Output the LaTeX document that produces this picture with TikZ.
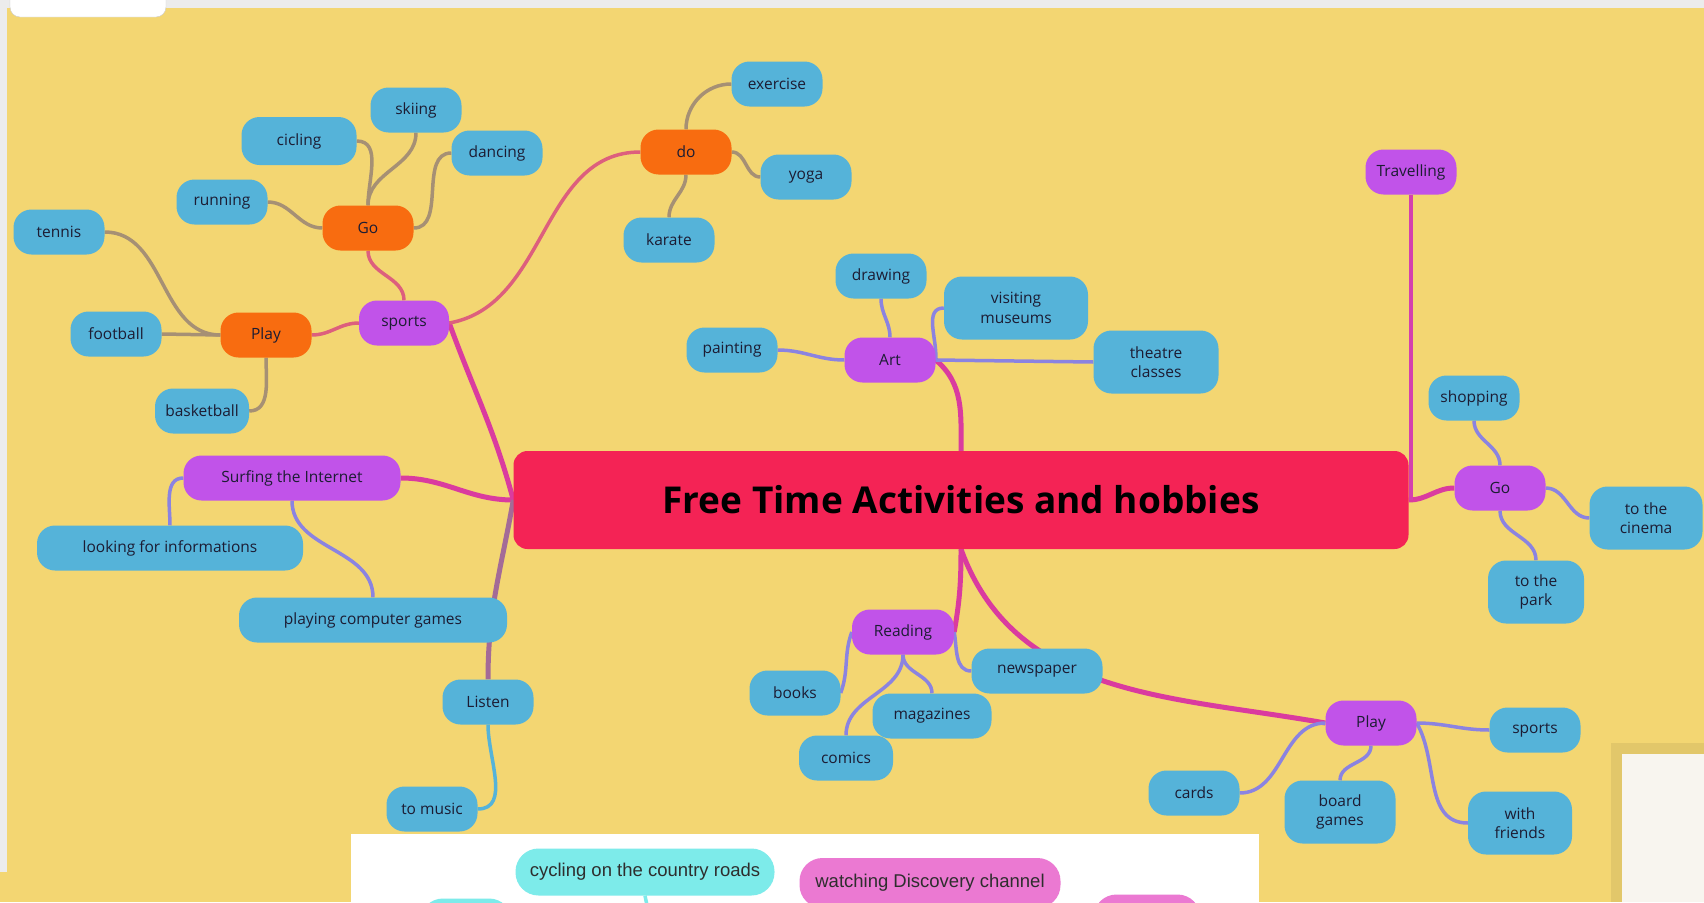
\documentclass[tikz,border=0pt]{standalone}
\usepackage{fontspec}
\setmainfont{Open Sans}
\newfontfamily\stripfont{Liberation Sans}
\usepackage{tikz}

\definecolor{paper}{HTML}{F3D672}
\definecolor{frame}{HTML}{ECECEC}
\definecolor{cream}{HTML}{F8F5EF}
\definecolor{leafblue}{HTML}{55B3D9}
\definecolor{lilac}{HTML}{C153E9}
\definecolor{tangerine}{HTML}{F86C10}
\definecolor{crimson}{HTML}{F42355}
\definecolor{ink}{HTML}{1C1C33}
\definecolor{aqua}{HTML}{7DEBEA}
\definecolor{orchid}{HTML}{EB79D2}
\definecolor{stripink}{HTML}{2E2E2E}

\pgfdeclarelayer{back}
\pgfdeclarelayer{links}
\pgfsetlayers{back,links,main}

\begin{document}
\begin{tikzpicture}[x=1pt,y=-1pt,
  every node/.style={font=\fontsize{15.5}{19.5}\selectfont,text=ink},
  leaf/.style={rectangle,rounded corners=18pt,fill=leafblue,minimum width=91pt,
    minimum height=45pt,inner sep=0pt,align=center},
  branch/.style={leaf,fill=lilac},
  sub node/.style={leaf,fill=tangerine},
  title node/.style={rectangle,rounded corners=14pt,fill=crimson,minimum width=895pt,
    minimum height=98pt,text=black,font=\fontsize{37}{44}\selectfont\bfseries},
  strip/.style={rectangle,rounded corners=23pt,inner sep=0pt,text=stripink,
    font=\stripfont\fontsize{18.5}{22}\selectfont},
  link/.style={line width=3.5pt},
  main link/.style={line width=5pt}]

  \useasboundingbox (0,0) rectangle (1704,902);
  \clip (0,0) rectangle (1704,902);

  \begin{pgfonlayer}{back}
    \fill[frame] (0,0) rectangle (1704,902);
    \fill[paper] (7,8) rectangle (1704,902);
    \fill[paper] (0,872) rectangle (7,902);
    \filldraw[white,draw=black!20,rounded corners=10pt] (10,-20) rectangle (166,17);
    \fill[paper!93!black] (1611,743) rectangle (1704,902);
    \fill[cream] (1622,754) rectangle (1704,902);
    \fill[white] (351,834) rectangle (1259,902);
  \end{pgfonlayer}

  \node[title node] (ttl) at (961,500) {Free Time Activities and hobbies};

  \node[branch,minimum width=90pt] (sports) at (404,323) {sports};
  \node[sub node] (goL) at (368,228) {Go};
  \node[leaf] (skiing) at (416,110) {skiing};
  \node[leaf,minimum width=115pt,minimum height=48pt] (cicling) at (299,141) {cicling};
  \node[leaf] (dancing) at (497,153) {dancing};
  \node[leaf] (running) at (222,202) {running};
  \node[sub node] (playL) at (266,335) {Play};
  \node[leaf] (tennis) at (59,232) {tennis};
  \node[leaf] (football) at (116,334) {football};
  \node[leaf,minimum width=94pt] (basket) at (202,411) {basketball};
  \node[sub node] (do) at (686,152) {do};
  \node[leaf] (exercise) at (777,84) {exercise};
  \node[leaf] (yoga) at (806,177) {yoga};
  \node[leaf] (karate) at (669,240) {karate};

  \node[branch] (art) at (890,360) {Art};
  \node[leaf] (drawing) at (881,276) {drawing};
  \node[leaf,minimum width=144pt,minimum height=63pt] (museums) at (1016,308) {visiting\\museums};
  \node[leaf,minimum width=125pt,minimum height=63pt] (theatre) at (1156,362) {theatre\\classes};
  \node[leaf] (painting) at (732,350) {painting};

  \node[branch] (travel) at (1411,172) {Travelling};
  \node[branch] (goR) at (1500,488) {Go};
  \node[leaf] (shopping) at (1474,398) {shopping};
  \node[leaf,minimum width=113pt,minimum height=63pt] (cinema) at (1646,518) {to the\\cinema};
  \node[leaf,minimum width=96pt,minimum height=63pt] (park) at (1536,592) {to the\\park};

  \node[branch,minimum width=102pt] (reading) at (903,632) {Reading};
  \node[leaf] (books) at (795,693) {books};
  \node[leaf,minimum width=119pt] (magazines) at (932,716) {magazines};
  \node[leaf,minimum width=94pt] (comics) at (846,758) {comics};
  \node[leaf,minimum width=131pt] (newspaper) at (1037,671) {newspaper};
  \node[branch] (playR) at (1371,723) {Play};
  \node[leaf] (sportsR) at (1535,730) {sports};
  \node[leaf] (cards) at (1194,793) {cards};
  \node[leaf,minimum width=111pt,minimum height=63pt] (board) at (1340,812) {board\\games};
  \node[leaf,minimum width=104pt,minimum height=63pt] (friends) at (1520,823) {with\\friends};

  \node[branch,minimum width=217pt] (surf) at (292,478) {Surfing the Internet};
  \node[leaf,minimum width=266pt] (looking) at (170,548) {looking for informations};
  \node[leaf,minimum width=268pt] (games) at (373,620) {playing computer games};
  \node[leaf] (listen) at (488,702) {Listen};
  \node[leaf] (music) at (432,809) {to music};

  \node[strip,fill=aqua,minimum width=259pt,minimum height=47pt] (cycling) at (645,872) {cycling on the country roads};
  \node[strip,fill=orchid,minimum width=261pt,minimum height=50pt] (discovery) at (930,883) {watching Discovery channel};
  \node[strip,fill=aqua,minimum width=92pt,minimum height=47pt] (stripa) at (466,922) {};
  \node[strip,fill=orchid,minimum width=107pt,minimum height=47pt] (stripb) at (1147,918) {};
  \coordinate (cyclingend) at (648,910);

  \begin{pgfonlayer}{links}
    \path[main link,color=crimson!50!lilac]
      (ttl.west) edge[out=105,in=-70] (sports.east)
      (ttl.west) edge[out=180,in=0] (surf.east)
      (ttl.north) edge[out=90,in=-40] (art.east)
      (ttl.east) edge[out=0,in=180] (goR.west)
      (ttl.south) edge[out=-90,in=80] (reading.east)
      (ttl.south) edge[out=-70,in=170] (playR.west);
    \path[main link,color=crimson!50!leafblue]
      (ttl.west) edge[out=-100,in=90] (listen.north);
    \path[link,color=lilac!60!crimson]
      (travel.south) edge (travel.south |- ttl.east);
    \path[link,color=lilac!50!tangerine]
      (sports.east) edge[out=10,in=180] (do.west)
      (sports.north) edge[out=90,in=-90] (goL.south)
      (sports.west) edge[out=180,in=0] (playL.east);
    \path[link,color=tangerine!50!leafblue]
      (goL.north) edge[out=90,in=-90] (skiing.south)
      (goL.north) edge[out=90,in=0] (cicling.east)
      (goL.east) edge[out=0,in=180] (dancing.west)
      (goL.west) edge[out=180,in=0] (running.east)
      (playL.west) edge[out=180,in=0] (tennis.east)
      (playL.west) edge (football.east)
      (playL.south) edge[out=-90,in=0] (basket.east)
      (do.north) edge[out=90,in=180] (exercise.west)
      (do.east) edge[out=0,in=180] (yoga.west)
      (do.south) edge[out=-90,in=90] (karate.north);
    \path[link,color=lilac!50!leafblue]
      (art.north) edge[out=90,in=-90] (drawing.south)
      (art.east) edge[out=85,in=180] (museums.west)
      (art.east) edge (theatre.west)
      (art.west) edge[out=180,in=0] (painting.east)
      (goR.north) edge[out=90,in=-90] (shopping.south)
      (goR.east) edge[out=0,in=180] (cinema.west)
      (goR.south) edge[out=-90,in=90] (park.north)
      (reading.west) edge[out=-110,in=70] (books.east)
      (reading.south) edge[out=-90,in=90] (comics.north)
      (reading.south) edge[out=-90,in=90] (magazines.north)
      (reading.east) edge[out=-80,in=180] (newspaper.west)
      (playR.west) edge[out=180,in=0] (cards.east)
      (playR.south) edge[out=-90,in=90] (board.north)
      (playR.east) edge[out=0,in=180] (sportsR.west)
      (playR.east) edge[out=-60,in=180] (friends.west)
      (surf.west) edge[out=180,in=90] (looking.north)
      (surf.south) edge[out=-90,in=90] (games.north);
    \path[link,color=leafblue]
      (listen.south) edge[out=-90,in=0] (music.east);
    \path[link,color=aqua]
      (cycling.south) edge (cyclingend);
  \end{pgfonlayer}
\end{tikzpicture}
\end{document}
